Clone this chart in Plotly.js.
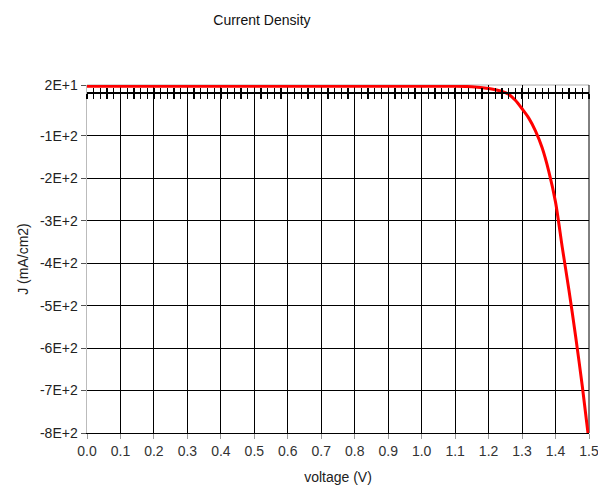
<!DOCTYPE html>
<html>
<head>
<meta charset="utf-8">
<script src="https://cdn.plot.ly/plotly-3.0.1.min.js"></script>
<style>html,body{margin:0;padding:0;background:#fff;}#chart{width:598px;height:488px;}</style>
</head>
<body>
<div id="chart"></div>
<script>
// Voltage (V)
const voltage = [0.0, 0.1, 0.2, 0.3, 0.4, 0.5, 0.6, 0.7, 0.8, 0.9, 1.0, 1.1, 1.15, 1.2, 1.22, 1.24, 1.26, 1.28, 1.30, 1.32, 1.34, 1.36, 1.38, 1.40, 1.42, 1.44, 1.46, 1.48, 1.50];
// Current density J (mA/cm2)
const currentDensity = [17, 17, 17, 17, 17, 17, 17, 17, 17, 17, 17, 17, 16, 12, 9, 5, -2, -16, -36, -58, -88, -128, -184, -256, -362, -463, -572, -690, -820];
// Axis tick labels
const xTickVals = [0.0, 0.1, 0.2, 0.3, 0.4, 0.5, 0.6, 0.7, 0.8, 0.9, 1.0, 1.1, 1.2, 1.3, 1.4, 1.5];
const yTickVals = [20, -100, -200, -300, -400, -500, -600, -700, -800];
const yTickText = ["2E+1", "-1E+2", "-2E+2", "-3E+2", "-4E+2", "-5E+2", "-6E+2", "-7E+2", "-8E+2"];
const yMin = -800, yMax = 20;
const zeroPos = (0 - yMin) / (yMax - yMin);

const font = "Liberation Sans, Arial, sans-serif";
const xRange = [0, 1.5];

const traces = [
  {x: voltage, y: currentDensity, type: "scatter", mode: "lines",
   line: {color: "#ff0000", width: 3, shape: "spline", smoothing: 0.8}, xaxis: "x", yaxis: "y", showlegend: false, hoverinfo: "skip"},
  {x: [0, 1.5], y: [0, 0], type: "scatter", mode: "lines", line: {width: 0, color: "rgba(0,0,0,0)"},
   xaxis: "x2", yaxis: "y", showlegend: false, hoverinfo: "skip"},
  {x: [0, 1.5], y: [0, 0], type: "scatter", mode: "lines", line: {width: 0, color: "rgba(0,0,0,0)"},
   xaxis: "x3", yaxis: "y", showlegend: false, hoverinfo: "skip"}
];

const layout = {
  width: 598, height: 488,
  margin: {l: 87, r: 9, t: 85, b: 55},
  paper_bgcolor: "#ffffff", plot_bgcolor: "#ffffff",
  showlegend: false,
  font: {family: font, size: 13, color: "#222"},
  title: {text: "Current Density", font: {family: font, size: 14, color: "#111"},
          xref: "container", x: 0.438, xanchor: "center", yref: "container", y: 0.958, yanchor: "middle"},
  xaxis: {
    range: xRange, tickvals: xTickVals, tickformat: ".1f",
    showgrid: true, gridcolor: "#000", gridwidth: 1,
    showline: true, linecolor: "#000", linewidth: 1,
    ticks: "outside", ticklen: 5, tickcolor: "#999", tickwidth: 1,
    tickfont: {family: font, size: 14, color: "#333"},
    ticklabeloverflow: "allow",
    zeroline: false,
    title: {text: "voltage (V)", font: {family: font, size: 14, color: "#222"}, standoff: 14}
  },
  xaxis2: {
    overlaying: "x", anchor: "free", position: zeroPos, range: xRange,
    showgrid: false, zeroline: false, showticklabels: false,
    showline: true, linecolor: "#000", linewidth: 2,
    dtick: 0.02, tick0: 0, ticks: "outside", ticklen: 5, tickcolor: "#000", tickwidth: 1.3
  },
  xaxis3: {
    overlaying: "x", anchor: "free", position: zeroPos, range: xRange,
    showgrid: false, zeroline: false, showticklabels: false, showline: false,
    dtick: 0.02, tick0: 0, ticks: "inside", ticklen: 5, tickcolor: "#000", tickwidth: 1.3
  },
  yaxis: {
    range: [yMin, yMax], tickvals: yTickVals, ticktext: yTickText,
    showgrid: true, gridcolor: "#000", gridwidth: 1,
    showline: true, linecolor: "#bbb", linewidth: 1.5,
    ticks: "outside", ticklen: 5, tickcolor: "#555", tickwidth: 1,
    tickfont: {family: font, size: 14, color: "#222"},
    zeroline: false,
    title: {text: "J (mA/cm2)", font: {family: font, size: 14, color: "#222"}, standoff: 8}
  },
  shapes: [
    {type: "line", xref: "paper", yref: "paper", x0: 0, x1: 1, y0: 1, y1: 1, line: {color: "#c8c8c8", width: 1.5}, layer: "below"},
    {type: "line", xref: "paper", yref: "paper", x0: 1, x1: 1, y0: 0, y1: 1, line: {color: "#000", width: 1}, layer: "below"}
  ]
};

Plotly.newPlot("chart", traces, layout, {staticPlot: true, displayModeBar: false});
</script>
</body>
</html>
